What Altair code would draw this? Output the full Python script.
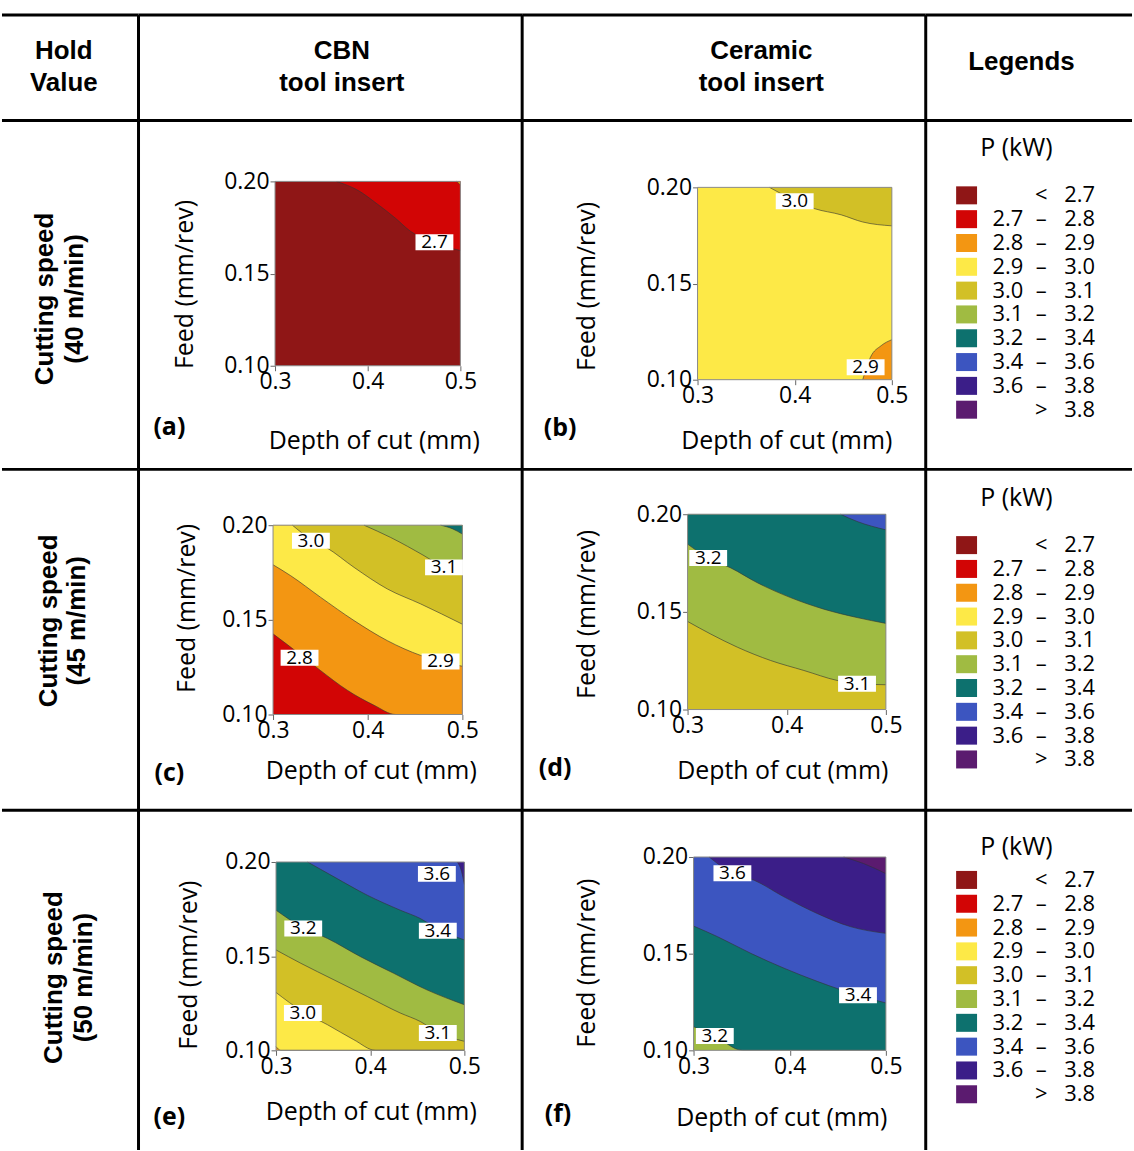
import altair as alt
import pandas as pd

FONT = "Open Sans"
HEAD_FONT = "Liberation Sans"

# ---------------- table structure ----------------
COL_WIDTHS = [137, 385, 405, 207]
ROW_HEIGHTS = [106, 350, 342, 341]

HEADER_TEXT = [["Hold", "Value"], ["CBN", "tool insert"], ["Ceramic", "tool insert"], ["Legends"]]
HEADER_X = [62, 204, 240, 96]
ROW_TEXT = [["Cutting speed", "(40 m/min)"],
            ["Cutting speed", "(45 m/min)"],
            ["Cutting speed", "(50 m/min)"]]

# ---------------- legend bands ----------------
BAND_COLORS = ["#8f1616", "#d20505", "#f39612", "#fde947", "#d2c026",
               "#a0bb42", "#0d716e", "#3c55c0", "#3b1e88", "#5b1b6f"]
BAND_LO = ["", "2.7", "2.8", "2.9", "3.0", "3.1", "3.2", "3.4", "3.6", ""]
BAND_SEP = ["<", "–", "–", "–", "–", "–", "–", "–", "–", ">"]
BAND_HI = ["2.7", "2.8", "2.9", "3.0", "3.1", "3.2", "3.4", "3.6", "3.8", "3.8"]
LEGEND_TITLE = "P (kW)"

DEPTH_DOMAIN = [0.3, 0.5]
FEED_DOMAIN = [0.10, 0.20]
DEPTH_TICKS = [0.3, 0.4, 0.5]
FEED_TICKS = [0.10, 0.15, 0.20]

# ---------------- contour boundaries (depth, feed) ----------------
A_27 = [(0.366, 0.200), (0.390, 0.195), (0.407, 0.189), (0.430, 0.180), (0.446, 0.173), (0.470, 0.167), (0.500, 0.1625)]
A_28 = [(0.496, 0.200), (0.500, 0.198)]
A_LABELS = [(0.472, 0.167, "2.7")]

B_30 = [(0.374, 0.200), (0.385, 0.197), (0.400, 0.193), (0.420, 0.189), (0.448, 0.1857), (0.470, 0.182), (0.500, 0.180)]
B_29 = [(0.470, 0.100), (0.478, 0.1117), (0.489, 0.1177), (0.500, 0.1208)]
B_LABELS = [(0.400, 0.1928, "3.0"), (0.473, 0.1065, "2.9")]

C_28 = [(0.300, 0.1426), (0.328, 0.132), (0.350, 0.1233), (0.3785, 0.1128), (0.4067, 0.1049), (0.4296, 0.100), (0.500, 0.100)]
C_29 = [(0.300, 0.1791), (0.3187, 0.1733), (0.350, 0.162), (0.3856, 0.1496), (0.4208, 0.139), (0.456, 0.1312), (0.477, 0.128), (0.500, 0.1255)]
C_30 = [(0.3204, 0.200), (0.340, 0.1925), (0.357, 0.188), (0.3856, 0.1777), (0.4208, 0.1663), (0.456, 0.1584), (0.500, 0.1477)]
C_31 = [(0.3961, 0.200), (0.4243, 0.1935), (0.4595, 0.1839), (0.4806, 0.1777), (0.500, 0.175)]
C_32 = [(0.477, 0.200), (0.490, 0.198), (0.500, 0.1953)]
C_LABELS = [(0.340, 0.1918, "3.0"), (0.4806, 0.1777, "3.1"), (0.328, 0.130, "2.8"), (0.477, 0.128, "2.9")]

D_31 = [(0.300, 0.1451), (0.3235, 0.1386), (0.3503, 0.1319), (0.3838, 0.1251), (0.4173, 0.120), (0.4508, 0.1149), (0.4709, 0.1132), (0.500, 0.1127)]
D_32 = [(0.300, 0.1847), (0.3208, 0.1776), (0.3436, 0.1725), (0.3704, 0.1649), (0.4039, 0.1573), (0.4374, 0.1514), (0.4709, 0.1471), (0.500, 0.1441)]
D_34 = [(0.4541, 0.200), (0.4709, 0.1963), (0.500, 0.192)]
D_LABELS = [(0.3208, 0.1776, "3.2"), (0.4709, 0.1132, "3.1")]

E_29 = [(0.300, 0.102), (0.305, 0.100), (0.500, 0.100)]
E_30 = [(0.300, 0.1307), (0.3285, 0.1205), (0.3546, 0.1136), (0.3827, 0.1056), (0.4056, 0.100), (0.500, 0.100)]
E_31 = [(0.300, 0.1533), (0.3264, 0.1462), (0.3616, 0.1374), (0.3968, 0.1286), (0.432, 0.1198), (0.4532, 0.1153), (0.4718, 0.1095), (0.500, 0.1048)]
E_32 = [(0.300, 0.1744), (0.3289, 0.1650), (0.3546, 0.1594), (0.3898, 0.1497), (0.425, 0.1409), (0.4602, 0.1321), (0.500, 0.1242)]
E_34 = [(0.3335, 0.200), (0.3616, 0.1921), (0.3968, 0.1824), (0.432, 0.1744), (0.4532, 0.170), (0.4718, 0.1645), (0.500, 0.1586)]
E_36 = [(0.4925, 0.200), (0.497, 0.195), (0.500, 0.188)]
E_LABELS = [(0.4708, 0.1937, "3.6"), (0.4718, 0.1635, "3.4"), (0.3289, 0.1647, "3.2"), (0.3285, 0.1198, "3.0"), (0.4718, 0.1092, "3.1")]

F_32 = [(0.300, 0.1122), (0.3221, 0.1074), (0.3508, 0.100), (0.500, 0.100)]
F_34 = [(0.300, 0.1643), (0.3249, 0.1588), (0.3594, 0.1502), (0.394, 0.1425), (0.4285, 0.1357), (0.4527, 0.1314), (0.471, 0.1285), (0.500, 0.1245)]
F_36 = [(0.3162, 0.200), (0.3404, 0.1916), (0.3629, 0.188), (0.394, 0.1794), (0.4285, 0.1708), (0.463, 0.164), (0.500, 0.1605)]
F_38 = [(0.4561, 0.200), (0.4769, 0.1966), (0.500, 0.1914)]
F_LABELS = [(0.3404, 0.1916, "3.6"), (0.471, 0.1285, "3.4"), (0.3221, 0.1074, "3.2")]

# panel: base band, [(curve, band beyond, side)], labels
PANELS = {
    "a": dict(base=0, curves=[(A_27, 1, "up"), (A_28, 2, "up")], labels=A_LABELS),
    "b": dict(base=3, curves=[(B_30, 4, "up"), (B_29, 2, "down")], labels=B_LABELS),
    "c": dict(base=1, curves=[(C_28, 2, "up"), (C_29, 3, "up"), (C_30, 4, "up"), (C_31, 5, "up"), (C_32, 6, "up")], labels=C_LABELS),
    "d": dict(base=4, curves=[(D_31, 5, "up"), (D_32, 6, "up"), (D_34, 7, "up")], labels=D_LABELS),
    "e": dict(base=2, curves=[(E_29, 3, "up"), (E_30, 4, "up"), (E_31, 5, "up"), (E_32, 6, "up"), (E_34, 7, "up"), (E_36, 8, "up")], labels=E_LABELS),
    "f": dict(base=5, curves=[(F_32, 6, "up"), (F_34, 7, "up"), (F_36, 8, "up"), (F_38, 9, "up")], labels=F_LABELS),
}

# layout inside each cell: plot (left, right, top, bottom), x-title, y-title, letter centres
PANEL_LAYOUT = {
    "a": dict(geom=(137, 323, 61, 246), xt=(236, 321), yt=(46, 164), lt=(31, 308)),
    "b": dict(geom=(176, 371, 67, 260), xt=(265, 321), yt=(65, 166), lt=(38, 309)),
    "c": dict(geom=(135, 325, 56, 246), xt=(233, 302), yt=(48, 139), lt=(31, 305)),
    "d": dict(geom=(166, 365, 45, 241), xt=(261, 302), yt=(65, 145), lt=(33, 300)),
    "e": dict(geom=(138, 327, 52, 241), xt=(233, 302), yt=(50, 155), lt=(31, 308)),
    "f": dict(geom=(172, 365, 47, 241), xt=(260, 308), yt=(65, 153), lt=(36, 305)),
}

AXL = 23   # tick label size
AXT = 25   # axis title size
LINE_W = 3
DUMMY = pd.DataFrame({"k": [0]})
BOX_PATH = "M-1,-0.42L1,-0.42L1,0.42L-1,0.42Z"
SQ_PATH = "M-1,-0.86L1,-0.86L1,0.86L-1,0.86Z"


def borders(W, H, left=True):
    out = [alt.Chart(DUMMY).mark_rule(color="black", strokeWidth=LINE_W)
           .encode(x=alt.value(0), x2=alt.value(W), y=alt.value(0))]
    if left:
        out.append(alt.Chart(DUMMY).mark_rule(color="black", strokeWidth=LINE_W)
                   .encode(x=alt.value(0), y=alt.value(0), y2=alt.value(H)))
    return out


def txt(s, x, y, size, font=FONT, bold=False, angle=0, align="center"):
    return alt.Chart(DUMMY).mark_text(
        text=s, font=font, fontSize=size, fontWeight="bold" if bold else "normal",
        angle=angle, align=align, baseline="middle", color="black"
    ).encode(x=alt.value(x), y=alt.value(y))


def header_cell(ci):
    W, H = COL_WIDTHS[ci], ROW_HEIGHTS[0]
    lines = HEADER_TEXT[ci]
    cx = HEADER_X[ci]
    if len(lines) == 2:
        layers = [txt(lines[0], cx, 36, 26, HEAD_FONT, True), txt(lines[1], cx, 68, 26, HEAD_FONT, True)]
    else:
        layers = [txt(lines[0], cx, 47, 26, HEAD_FONT, True)]
    layers += borders(W, H, left=ci > 0)
    return alt.layer(*layers).properties(width=W, height=H)


ROW_LABEL_POS = [((43, 73), 179), ((47, 75), 152), ((52, 82), 168)]


def row_label_cell(ri):
    W, H = COL_WIDTHS[0], ROW_HEIGHTS[ri + 1]
    (x1, x2), cy = ROW_LABEL_POS[ri]
    layers = [txt(ROW_TEXT[ri][0], x1, cy, 26, HEAD_FONT, True, angle=270),
              txt(ROW_TEXT[ri][1], x2, cy, 26, HEAD_FONT, True, angle=270)]
    layers += borders(W, H, left=False)
    return alt.layer(*layers).properties(width=W, height=H)


LEGEND_POS = [(28, 75), (29, 76), (37, 70)]
LEGEND_STEP = 23.9


def legend_cell(ri):
    W, H = COL_WIDTHS[3], ROW_HEIGHTS[ri + 1]
    ty, first = LEGEND_POS[ri]
    fld = f"i{ri}"
    df = pd.DataFrame({fld: list(range(len(BAND_COLORS))), "col": BAND_COLORS,
                       "lo": BAND_LO, "sep": BAND_SEP, "hi": BAND_HI})
    yenc = alt.Y(f"{fld}:Q", scale=alt.Scale(domain=[0, 9], range=[first, first + 9 * LEGEND_STEP]), axis=None)
    base = alt.Chart(df)
    sq = base.mark_point(shape=SQ_PATH, size=441, filled=True, opacity=1, strokeWidth=0).encode(
        x=alt.value(41), y=yenc, fill=alt.Fill("col:N", scale=None))
    lo = base.mark_text(font=FONT, fontSize=22, align="right", baseline="middle", color="black").encode(
        x=alt.value(98), y=yenc, text="lo:N")
    sep = base.mark_text(font=FONT, fontSize=22, align="center", baseline="middle", color="black").encode(
        x=alt.value(116), y=yenc, text="sep:N")
    hi = base.mark_text(font=FONT, fontSize=22, align="right", baseline="middle", color="black").encode(
        x=alt.value(170), y=yenc, text="hi:N")
    layers = [txt(LEGEND_TITLE, 91, ty, 25), sq, lo, sep, hi] + borders(W, H, left=True)
    return alt.layer(*layers).properties(width=W, height=H)


def contour_cell(key, ci, ri):
    W, H = COL_WIDTHS[ci], ROW_HEIGHTS[ri + 1]
    p, lay = PANELS[key], PANEL_LAYOUT[key]
    l, r, t, b = lay["geom"]
    fx, fy = "d_" + key, "f_" + key
    xenc = alt.X(f"{fx}:Q",
                 scale=alt.Scale(domain=DEPTH_DOMAIN, range=[l, r], nice=False, zero=False),
                 axis=alt.Axis(values=DEPTH_TICKS, format=".1f", title="Depth of cut (mm)",
                               offset=-(H - b), grid=False, domain=False, tickSize=5,
                               tickColor="#666666", labelFont=FONT, labelFontSize=AXL,
                               labelColor="black", labelFlush=False, labelOverlap=False,
                               labelPadding=0, titleFont=FONT, titleFontSize=AXT,
                               titleFontWeight="normal", titleColor="black",
                               titleX=lay["xt"][0], titleY=lay["xt"][1] - b,
                               titleAlign="center", titleBaseline="middle"))
    yenc = alt.Y(f"{fy}:Q",
                 scale=alt.Scale(domain=FEED_DOMAIN, range=[b, t], nice=False, zero=False),
                 axis=alt.Axis(values=FEED_TICKS, format=".2f", title="Feed (mm/rev)",
                               offset=-l, grid=False, domain=False, tickSize=5,
                               tickColor="#666666", labelFont=FONT, labelFontSize=AXL,
                               labelColor="black", labelOverlap=False, labelPadding=1,
                               titleFont=FONT, titleFontSize=AXT, titleFontWeight="normal",
                               titleColor="black", titleAngle=270,
                               titleX=lay["yt"][0] - l, titleY=lay["yt"][1],
                               titleAlign="center", titleBaseline="middle"))
    bg = pd.DataFrame({fx: [DEPTH_DOMAIN[0]], fx + "2": [DEPTH_DOMAIN[1]],
                       fy: [FEED_DOMAIN[0]], fy + "2": [FEED_DOMAIN[1]]})
    layers = [alt.Chart(bg).mark_rect(color=BAND_COLORS[p["base"]]).encode(
        x=xenc, x2=alt.X2(fx + "2"), y=yenc, y2=alt.Y2(fy + "2"))]
    lines = []
    for pts, band, side in p["curves"]:
        edge = FEED_DOMAIN[1] if side == "up" else FEED_DOMAIN[0]
        df = pd.DataFrame({fx: [q[0] for q in pts], fy: [q[1] for q in pts],
                           "edge": [edge] * len(pts)})
        layers.append(alt.Chart(df).mark_area(color=BAND_COLORS[band], interpolate="monotone").encode(
            x=xenc, y=yenc, y2=alt.Y2("edge:Q")))
        lines.append(alt.Chart(df).mark_line(color="#333333", strokeWidth=0.6, interpolate="monotone").encode(
            x=xenc, y=yenc))
    layers += lines
    layers.append(alt.Chart(bg).mark_rect(fill="transparent", stroke="#8a8a8a", strokeWidth=1).encode(
        x=xenc, x2=alt.X2(fx + "2"), y=yenc, y2=alt.Y2(fy + "2")))
    lab = pd.DataFrame({fx: [q[0] for q in p["labels"]], fy: [q[1] for q in p["labels"]],
                        "lab": [q[2] for q in p["labels"]]})
    layers.append(alt.Chart(lab).mark_point(shape=BOX_PATH, size=1444, filled=True, color="white",
                                            opacity=1, strokeWidth=0).encode(x=xenc, y=yenc))
    layers.append(alt.Chart(lab).mark_text(font=FONT, fontSize=19, color="black", align="center",
                                           baseline="middle").encode(x=xenc, y=yenc, text="lab:N"))
    layers.append(txt(f"({key})", lay["lt"][0], lay["lt"][1], 25, FONT, True))
    layers += borders(W, H, left=True)
    return alt.layer(*layers).properties(width=W, height=H)


cells = [header_cell(i) for i in range(4)]
keys = [("a", "b"), ("c", "d"), ("e", "f")]
for ri, (k1, k2) in enumerate(keys):
    cells += [row_label_cell(ri), contour_cell(k1, 1, ri), contour_cell(k2, 2, ri), legend_cell(ri)]

chart = alt.concat(*cells, columns=4, spacing=0, bounds="flush").resolve_scale(
    x="independent", y="independent"
).properties(
    padding={"left": 0, "top": 11, "right": 0, "bottom": 0},
    background="white",
).configure_view(stroke="transparent")

chart.save("out.html", embed_options={"renderer": "svg", "actions": False})
